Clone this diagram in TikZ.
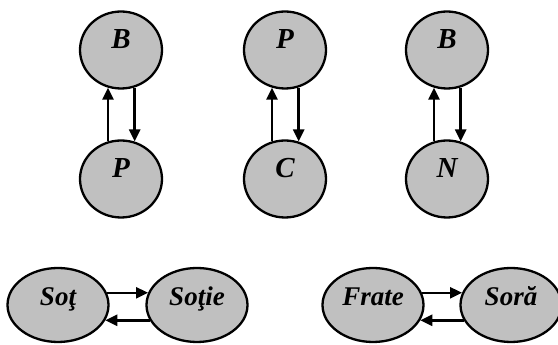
\documentclass[tikz,border=0pt]{standalone}
\usepackage{fontspec}
\setmainfont{Liberation Serif}
\usetikzlibrary{shapes.geometric,arrows.meta}
\definecolor{nodegray}{RGB}{192,192,192}
\tikzset{
  circ/.style={draw=black, line width=2.3pt, fill=nodegray, ellipse, minimum width=82pt, minimum height=77pt, inner sep=0pt},
  oval/.style={draw=black, line width=2.3pt, fill=nodegray, ellipse, minimum width=101pt, minimum height=74pt, inner sep=0pt},
  lbl/.style={font=\fontsize{27}{31}\selectfont\bfseries\itshape, anchor=base, inner sep=0pt},
  biglbl/.style={lbl, font=\fontsize{29}{33}\selectfont\bfseries\itshape},
  arr/.style={line width=2.5pt, -{Triangle[length=12pt,width=11pt]}}
}
\begin{document}
\begin{tikzpicture}[x=1pt,y=1pt]
\useasboundingbox (0,0) rectangle (558,345);
\node[circ] (b1) at (121,295) {};
\node[circ] (p1) at (121,166) {};
\node[circ] (p2) at (285,295) {};
\node[circ] (c2) at (285,166) {};
\node[circ] (b3) at (447,295) {};
\node[circ] (n3) at (447,166) {};
\node[biglbl] (tb1) at ([yshift=1pt]b1.center) {B};
\node[biglbl] (tp1) at ([yshift=1pt]p1.center) {P};
\node[biglbl] (tp2) at ([yshift=1pt]p2.center) {P};
\node[biglbl] (tc2) at ([yshift=1pt]c2.center) {C};
\node[biglbl] (tb3) at ([yshift=1pt]b3.center) {B};
\node[biglbl] (tn3) at ([yshift=1pt]n3.center) {N};
\draw[arr] (p1.109) -- (b1.251);
\draw[arr] (b1.290) -- (p1.70);
\draw[arr] (c2.109) -- (p2.251);
\draw[arr] (p2.290) -- (c2.70);
\draw[arr] (n3.109) -- (b3.251);
\draw[arr] (b3.290) -- (n3.70);
\node[oval] (sot) at (58,40) {};
\node[oval] (sotie) at (197,40) {};
\node[oval] (frate) at (373,40) {};
\node[oval] (sora) at (511,40) {};
\node[lbl] (tsot) at ([yshift=-1pt]sot.center) {Soţ};
\node[lbl] (tsotie) at ([yshift=-1pt]sotie.center) {Soţie};
\node[lbl] (tfrate) at ([yshift=-1pt]frate.center) {Frate};
\node[lbl] (tsora) at ([yshift=-1pt]sora.center) {Soră};
\draw[arr] (sot.14) -- (sotie.166);
\draw[arr] (sotie.198) -- (sot.-18);
\draw[arr] (frate.14) -- (sora.166);
\draw[arr] (sora.198) -- (frate.-18);
\end{tikzpicture}
\end{document}
